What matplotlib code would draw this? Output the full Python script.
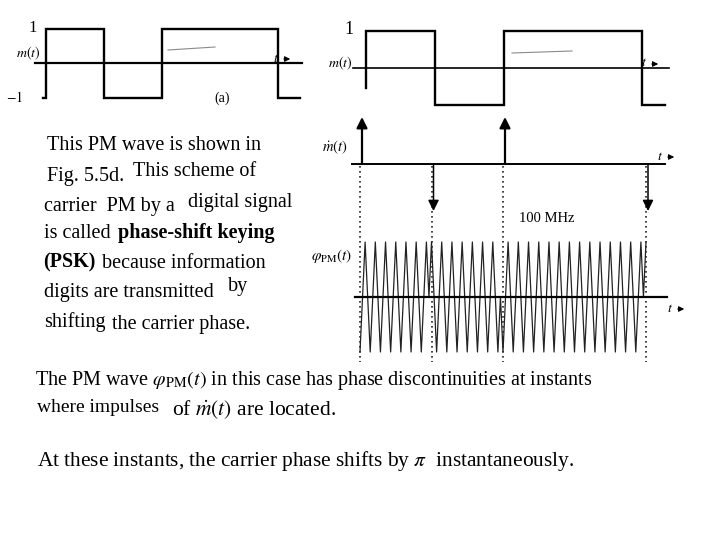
import numpy as np
import matplotlib.pyplot as plt
from matplotlib import transforms

plt.rcParams['font.family'] = ['Liberation Serif', 'DejaVu Serif']
plt.rcParams['mathtext.fontset'] = 'stix'

# message m(t): switching instants (in bit units) and the level after each switch
switch_times = [0, 1, 2, 4]
switch_levels = [1, -1, 1, -1]
level_before = -1
# carrier cycles per bit interval, counted on the PM trace
carrier_cycles = 7

W, H = 720, 540
fig = plt.figure(figsize=(W / 100, H / 100), dpi=100)

# background axes in pixel units, used for the text and the dotted guides
bg = fig.add_axes([0, 0, 1, 1])
bg.set_xlim(0, W)
bg.set_ylim(H, 0)
bg.axis('off')


def panel(box, t0, tunit, y0, yunit):
    """Axes placed by a pixel box; t0/y0 are the pixel positions of t=0 / y=0."""
    x1, y1, x2, y2 = box
    ax = fig.add_axes([x1 / W, 1 - y2 / H, (x2 - x1) / W, (y2 - y1) / H])
    ax.set_xlim((x1 - t0) / tunit, (x2 - t0) / tunit)
    ax.set_ylim((y0 - y2) / yunit, (y0 - y1) / yunit)
    ax.axis('off')
    return ax


def draw_message(ax, start, tail):
    t0, v0 = start
    ts = [t0] + switch_times + [tail]
    vs = [v0] + switch_levels + [switch_levels[-1]]
    ax.step(ts, vs, where='post', color='k', lw=1.7, solid_joinstyle='miter')


def t_arrow(x, y):
    bg.text(x, y, '$t$', fontsize=10, ha='center', va='center')
    bg.annotate('', xy=(x + 17, y + 1), xytext=(x + 5, y + 1),
                arrowprops=dict(arrowstyle='-|>', color='k', lw=0.8, mutation_scale=8))


# ---- (a) left-hand message waveform ----
ax_a = panel((0, 10, 315, 110), t0=46, tunit=58, y0=63, yunit=34.5)
ax_a.plot([-0.19, 4.41], [0, 0], color='k', lw=1.6)
draw_message(ax_a, (-0.05, level_before), 4.38)

bg.text(33, 28, '1', fontsize=12, ha='center', va='center')
bg.text(28, 53, '$m(t)$', fontsize=10, ha='center', va='center')
bg.text(15, 98, '$-1$', fontsize=10, ha='center', va='center')
t_arrow(276, 58)
bg.text(222, 98, '(a)', fontsize=10, ha='center', va='center')
bg.plot([168, 215], [50, 47], color='#8a8a8a', lw=0.8)

# ---- right-hand message waveform ----
ax_m = panel((325, 10, 700, 115), t0=366, tunit=69, y0=68, yunit=36.5)
ax_m.plot([-0.19, 4.39], [0, 0], color='k', lw=1.2)
draw_message(ax_m, (0, -0.55), 4.33)

bg.text(349, 29, '1', fontsize=13, ha='center', va='center')
bg.text(340, 63, '$m(t)$', fontsize=10, ha='center', va='center')
t_arrow(644, 63)
bg.plot([512, 572], [53, 51], color='#8a8a8a', lw=0.8)

# ---- derivative: impulses at the switching instants ----
ax_d = panel((325, 105, 700, 225), t0=362, tunit=71.5, y0=164, yunit=47)
ax_d.plot([-0.14, 4.24], [0, 0], color='k', lw=1.4)
impulse_signs = np.sign(np.diff([level_before] + switch_levels))
for t, s in zip(switch_times, impulse_signs):
    ax_d.annotate('', xy=(t, s), xytext=(t, 0),
                  arrowprops=dict(arrowstyle='-|>', color='k',
                                  lw=1.6 if s > 0 else 1.1,
                                  mutation_scale=16, shrinkA=0, shrinkB=0))

bg.text(335, 147, r'$\dot{m}(t)$', fontsize=10.5, ha='center', va='center')
t_arrow(660, 156)
bg.text(547, 218, '100 MHz', fontsize=10.5, ha='center', va='center')

# ---- PM (PSK) wave ----
ax_p = panel((325, 225, 700, 365), t0=360, tunit=71.5, y0=297, yunit=55)
ax_p.plot([-0.07, 4.29], [0, 0], color='k', lw=1.6, zorder=3)
t = np.linspace(0, switch_times[-1], 4 * carrier_cycles * switch_times[-1] + 1)
idx = np.searchsorted(switch_times, t, side='right') - 1
m = np.array(switch_levels)[idx]
phi = np.cos(2 * np.pi * carrier_cycles * t + np.pi / 2 * m + np.pi / 2)
ax_p.plot(t, phi, color='#222222', lw=0.9)

bg.text(332, 256, r'$\varphi_{\rm PM}(t)$', fontsize=11, ha='center', va='center')
t_arrow(670, 308)

# dotted guides through the switching instants
guide = transforms.blended_transform_factory(ax_p.transData, bg.transData)
for tt in switch_times:
    bg.plot([tt, tt], [166, 362], transform=guide, color='#222222',
            lw=1.2, linestyle=(0, (1, 2)), clip_on=False)

# ---- explanatory text ----
fs = 14.5
bg.text(47, 145, 'This PM wave is shown in', fontsize=fs, va='center')
bg.text(47, 176, 'Fig. 5.5d.', fontsize=fs, va='center')
bg.text(133, 172, 'This scheme of', fontsize=fs, va='center')
bg.text(44, 207, 'carrier  PM by a', fontsize=fs, va='center')
bg.text(188, 203, 'digital signal', fontsize=fs, va='center')
bg.text(44, 233, 'is called', fontsize=fs, va='center')
bg.text(118, 233, 'phase-shift keying', fontsize=fs, va='center', fontweight='bold')
bg.text(43, 262, '(PSK)', fontsize=fs, va='center', fontweight='bold')
bg.text(102, 263, 'because information', fontsize=fs, va='center')
bg.text(44, 292, 'digits are transmitted', fontsize=fs, va='center')
bg.text(228, 287, 'by', fontsize=fs, va='center')
bg.text(44, 322, 'shifting', fontsize=fs, va='center')
bg.text(112, 324, 'the carrier phase.', fontsize=fs, va='center')

bg.text(35, 380, r'The PM wave $\varphi_{\rm PM}(t)$ in this case has phase discontinuities at instants',
        fontsize=14.5, va='center')
bg.text(37, 407, 'where impulses', fontsize=14, va='center')
bg.text(172, 410, r'of $\dot{m}(t)$ are located.', fontsize=15.5, va='center')
bg.text(37, 461, r'At these instants, the carrier phase shifts by $\pi$  instantaneously.',
        fontsize=15.4, va='center')

fig.savefig('out.png', dpi=100)
